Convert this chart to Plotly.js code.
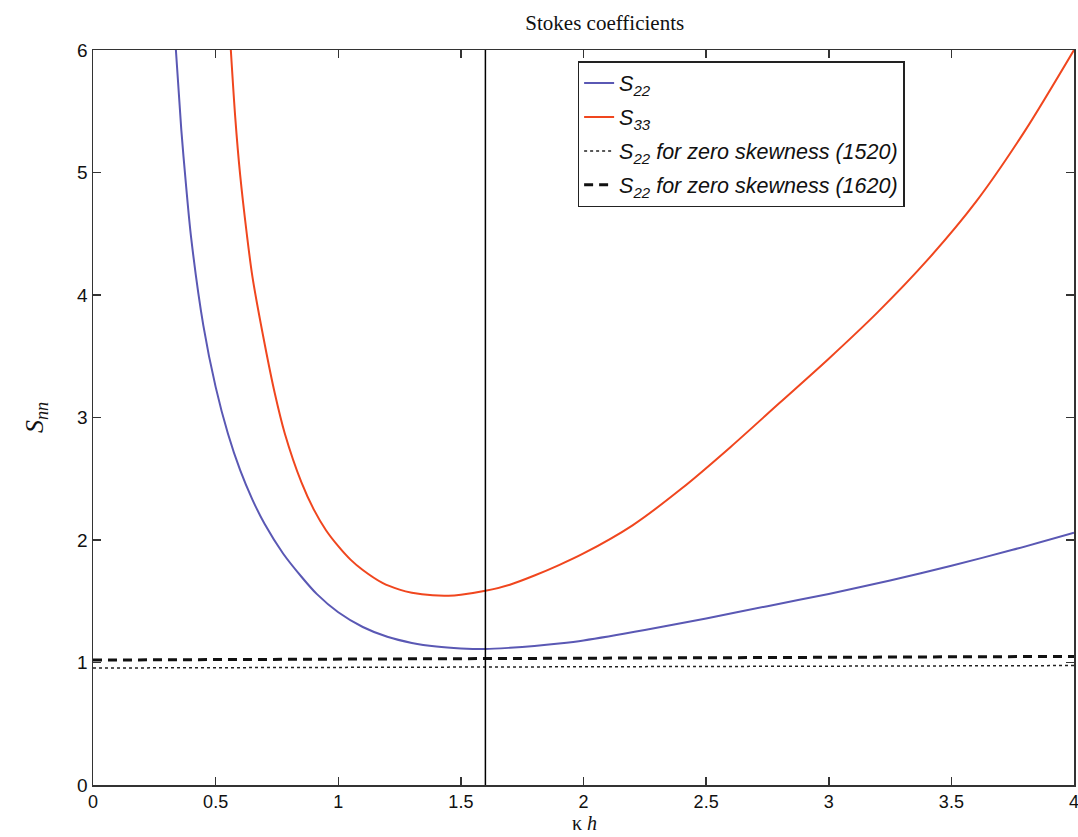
<!DOCTYPE html>
<html>
<head>
<meta charset="utf-8">
<script src="https://cdn.plot.ly/plotly-3.0.1.min.js"></script>
<style>html,body{margin:0;padding:0;background:#fff;}#chart{width:1078px;height:837px;}</style>
</head>
<body>
<div id="chart"></div>
<script>
// S22 (blue)
const s22X = [0.338, 0.36, 0.38, 0.40, 0.45, 0.50, 0.55, 0.60, 0.65, 0.70, 0.775, 0.85, 0.912, 1.0, 1.1, 1.2, 1.3, 1.4, 1.5, 1.6, 1.7, 1.8, 1.9, 2.0, 2.25, 2.5, 2.75, 3.0, 3.25, 3.5, 3.75, 4.0];
const s22Y = [6.0, 5.35, 4.88, 4.47, 3.75, 3.25, 2.87, 2.57, 2.33, 2.13, 1.89, 1.70, 1.56, 1.41, 1.29, 1.21, 1.16, 1.13, 1.115, 1.11, 1.12, 1.135, 1.155, 1.18, 1.265, 1.36, 1.46, 1.56, 1.67, 1.79, 1.92, 2.06];
// S33 (red)
const s33X = [0.562, 0.58, 0.60, 0.627, 0.65, 0.70, 0.741, 0.782, 0.85, 0.90, 0.95, 1.0, 1.05, 1.1, 1.18, 1.25, 1.3, 1.385, 1.45, 1.5, 1.6, 1.7, 1.8, 1.9, 2.0, 2.2, 2.4, 2.6, 2.8, 3.0, 3.2, 3.4, 3.6, 3.8, 4.0];
const s33Y = [6.0, 5.45, 4.98, 4.5, 4.15, 3.6, 3.2, 2.87, 2.47, 2.25, 2.08, 1.95, 1.84, 1.755, 1.65, 1.595, 1.57, 1.548, 1.545, 1.553, 1.585, 1.635, 1.71, 1.795, 1.89, 2.12, 2.42, 2.76, 3.12, 3.48, 3.86, 4.28, 4.76, 5.34, 6.0];
// zero skewness lines
const zs1520X = [0, 4];
const zs1520Y = [0.955, 0.975];
const zs1620X = [0, 4];
const zs1620Y = [1.02, 1.05];
// vertical reference line
const refX = [1.6, 1.6];
const refY = [0, 6];

const xTickVals = [0, 0.5, 1, 1.5, 2, 2.5, 3, 3.5, 4];
const xTickText = ['0', '0.5', '1', '1.5', '2', '2.5', '3', '3.5', '4'];
const yTickVals = [0, 1, 2, 3, 4, 5, 6];

const legendNames = [
  '<i>S</i><sub><i>22</i></sub>',
  '<i>S</i><sub><i>33</i></sub>',
  '<i>S</i><sub><i>22</i></sub><i> for zero skewness (1520)</i>',
  '<i>S</i><sub><i>22</i></sub><i> for zero skewness (1620)</i>'
];

const traces = [
  {x: s22X, y: s22Y, mode: 'lines', name: legendNames[0], legendgroup: 'a', line: {color: '#5a58b4', width: 2, shape: 'spline', smoothing: 0.8}},
  {x: s33X, y: s33Y, mode: 'lines', name: legendNames[1], legendgroup: 'b', line: {color: '#f0461e', width: 2, shape: 'spline', smoothing: 0.8}},
  {x: zs1520X, y: zs1520Y, mode: 'lines', name: legendNames[2], legendgroup: 'c', line: {color: '#222', width: 1.5, dash: 'dot'}},
  {x: zs1620X, y: zs1620Y, mode: 'lines', name: legendNames[3], legendgroup: 'd', line: {color: '#111', width: 3, dash: '9px,6px'}},
  {x: refX, y: refY, mode: 'lines', showlegend: false, line: {color: '#000', width: 1.5}}
];

const axisCommon = {
  showgrid: false, zeroline: false, showline: true, linecolor: '#333', linewidth: 1.5,
  mirror: 'ticks', ticks: 'inside', ticklen: 8, tickcolor: '#333', tickwidth: 1.5,
  ticklabeloverflow: 'allow',
  tickfont: {family: 'Liberation Sans, Arial, sans-serif', size: 19, color: '#111'}
};

const layout = {
  width: 1078, height: 837,
  margin: {l: 93, r: 4, t: 50, b: 52},
  paper_bgcolor: '#fff', plot_bgcolor: '#fff',
  title: {text: 'Stokes coefficients', x: 0.561, xanchor: 'center', y: 0.973, yanchor: 'middle',
          font: {family: 'Liberation Serif, Times New Roman, serif', size: 21, color: '#111'}},
  xaxis: Object.assign({}, axisCommon, {range: [0, 4], tickvals: xTickVals, ticktext: xTickText,
    tickfont: {family: 'Liberation Sans, Arial, sans-serif', size: 18, color: '#111'}}),
  yaxis: Object.assign({}, axisCommon, {range: [0, 6], tickvals: yTickVals,
    title: {text: '<i>S</i><sub><i>nn</i></sub>', standoff: 26, font: {family: 'Liberation Serif, Times New Roman, serif', size: 26, color: '#111'}}}),
  annotations: [{
    text: 'κ <i>h</i>', xref: 'paper', yref: 'paper', x: 0.501, y: 0, yshift: -26,
    xanchor: 'center', yanchor: 'top', showarrow: false, borderpad: 0,
    font: {family: 'Liberation Serif, Times New Roman, serif', size: 20, color: '#111'}
  }],
  legend: {x: 0.494, y: 0.985, xanchor: 'left', yanchor: 'top', bgcolor: '#fff', bordercolor: '#222', borderwidth: 1.5,
    font: {family: 'Liberation Sans, Arial, sans-serif', size: 21.5, color: '#111'}, traceorder: 'grouped', tracegroupgap: 3},
  showlegend: true
};

Plotly.newPlot('chart', traces, layout, {displayModeBar: false, staticPlot: true});
</script>
</body>
</html>
